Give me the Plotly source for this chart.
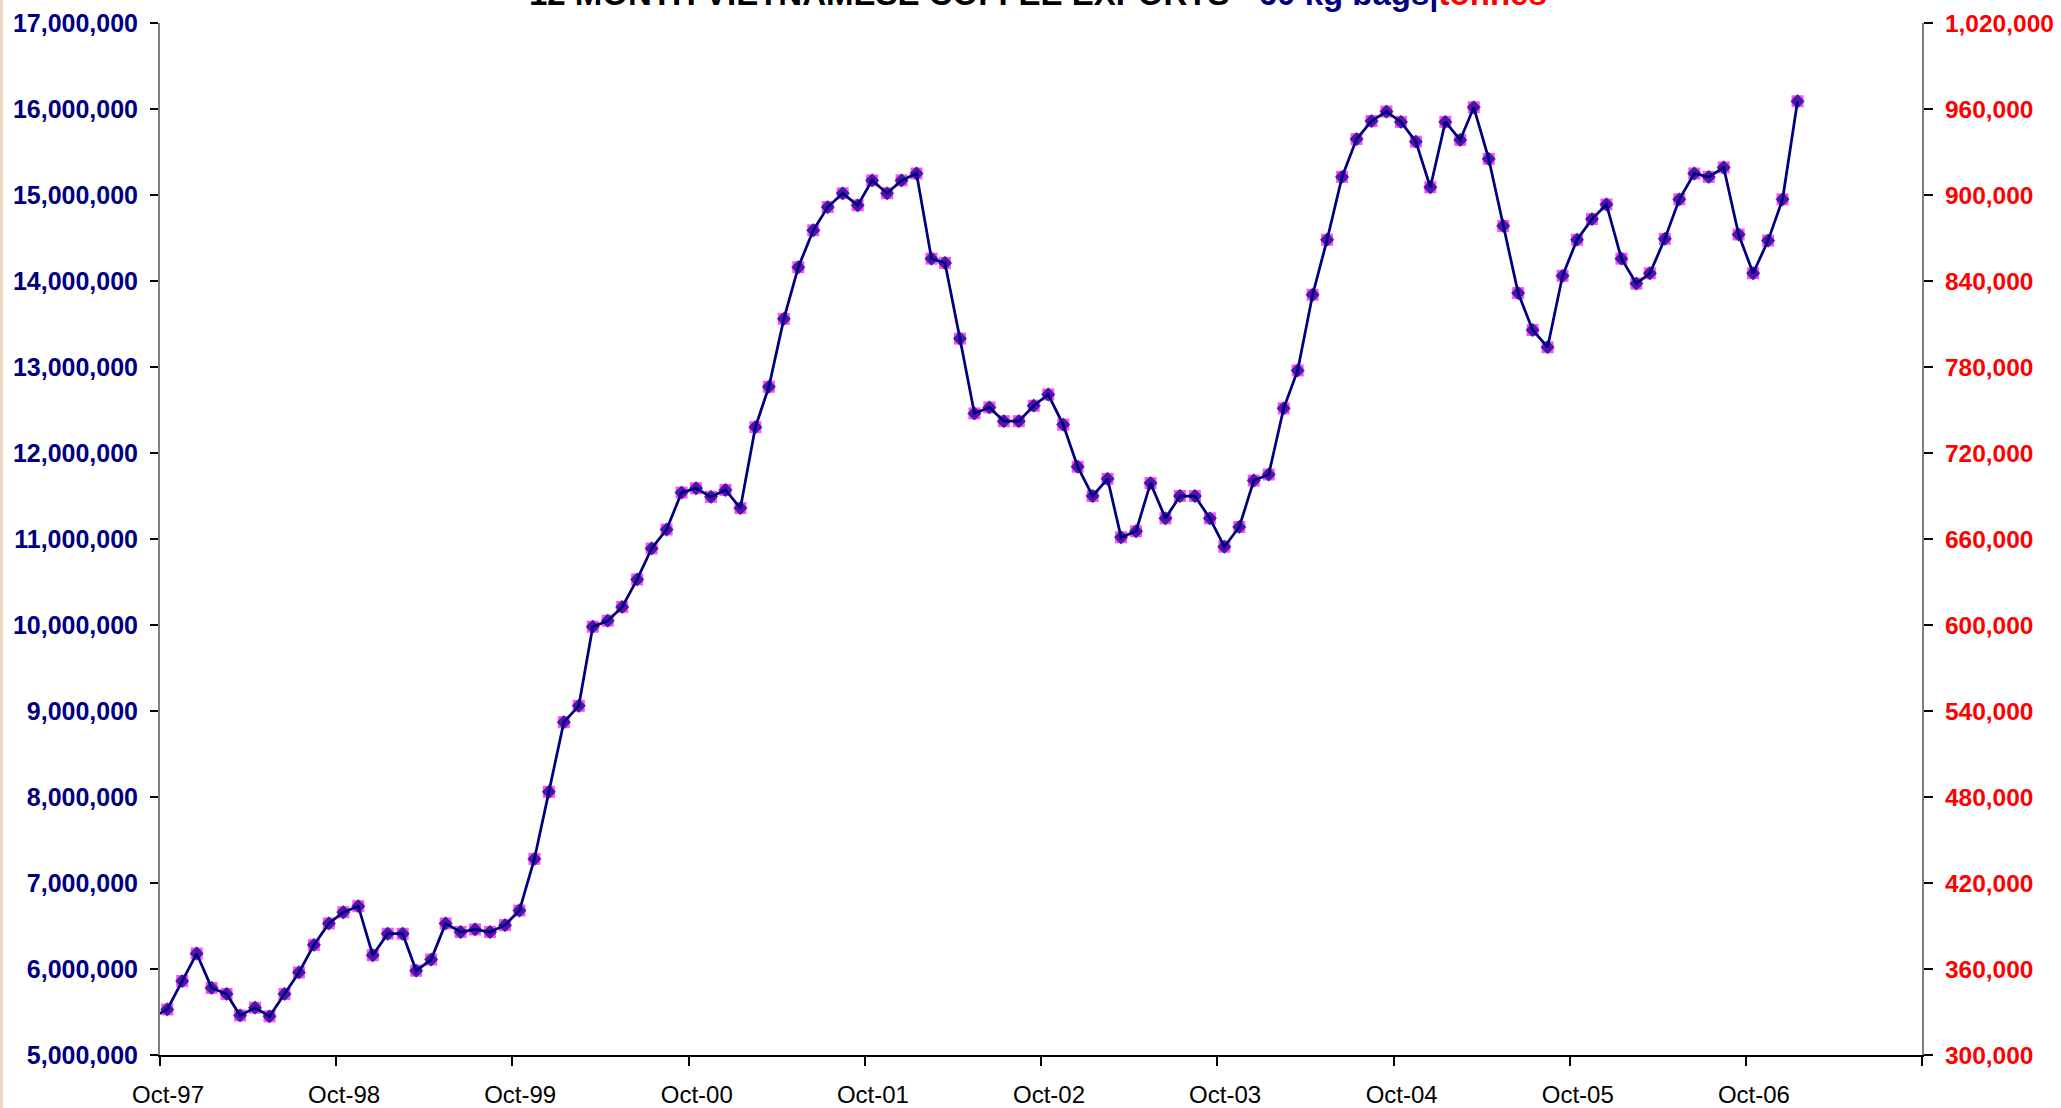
import pandas as pd
import plotly.graph_objects as go

# 12-month rolling exports, Sep-97 .. Jan-07 (Sep-97 only feeds the line entering at the axis)
months = pd.date_range("1997-09-01", periods=113, freq="MS") + pd.Timedelta(days=15)

bags = [
    5440000,
    5530000, 5860000, 6180000, 5780000, 5710000, 5460000, 5550000, 5450000, 5710000, 5960000, 6280000, 6530000,
    6660000, 6730000, 6160000, 6410000, 6410000, 5980000, 6110000, 6530000, 6430000, 6460000, 6430000, 6510000,
    6680000, 7280000, 8060000, 8870000, 9060000, 9980000, 10050000, 10210000, 10530000, 10890000, 11110000, 11540000,
    11590000, 11490000, 11570000, 11360000, 12300000, 12770000, 13560000, 14160000, 14590000, 14860000, 15020000, 14880000,
    15170000, 15020000, 15170000, 15250000, 14260000, 14210000, 13330000, 12460000, 12530000, 12370000, 12370000, 12550000,
    12680000, 12330000, 11840000, 11500000, 11700000, 11020000, 11090000, 11650000, 11240000, 11500000, 11500000, 11240000,
    10910000, 11140000, 11680000, 11750000, 12520000, 12960000, 13840000, 14480000, 15210000, 15650000, 15860000, 15970000,
    15850000, 15620000, 15090000, 15850000, 15640000, 16020000, 15420000, 14640000, 13860000, 13430000, 13230000, 14060000,
    14480000, 14720000, 14890000, 14260000, 13970000, 14090000, 14490000, 14950000, 15250000, 15210000, 15320000, 14540000,
    14090000, 14470000, 14950000, 16090000,
]

tonnes = [
    326400,
    331800, 351600, 370800, 346800, 342600, 327600, 333000, 327000, 342600, 357600, 376800, 391800,
    399600, 403800, 369600, 384600, 384600, 358800, 366600, 391800, 385800, 387600, 385800, 390600,
    400800, 436800, 483600, 532200, 543600, 598800, 603000, 612600, 631800, 653400, 666600, 692400,
    695400, 689400, 694200, 681600, 738000, 766200, 813600, 849600, 875400, 891600, 901200, 892800,
    910200, 901200, 910200, 915000, 855600, 852600, 799800, 747600, 751800, 742200, 742200, 753000,
    760800, 739800, 710400, 690000, 702000, 661200, 665400, 699000, 674400, 690000, 690000, 674400,
    654600, 668400, 700800, 705000, 751200, 777600, 830400, 868800, 912600, 939000, 951600, 958200,
    951000, 937200, 905400, 951000, 938400, 961200, 925200, 878400, 831600, 805800, 793800, 843600,
    868800, 883200, 893400, 855600, 838200, 845400, 869400, 897000, 915000, 912600, 919200, 872400,
    845400, 868200, 897000, 965400,
]

tick_dates = ["%d-10-01" % y for y in range(1997, 2008)]
tick_text = ["Oct-97", "Oct-98", "Oct-99", "Oct-00", "Oct-01", "Oct-02",
             "Oct-03", "Oct-04", "Oct-05", "Oct-06", ""]

NAVY = "#000080"
RED = "#FF0000"
FONT = "Liberation Sans, Arial, sans-serif"

W, H = 2061, 1108
L, R, T, B = 160, 139, 23, 53
pw = W - L - R
ph = H - T - B

sizes_sq = [0] + [12] * (len(tonnes) - 1)
sizes_di = [0] + [11] * (len(bags) - 1)

fig = go.Figure()

# tonnes - magenta squares on the right axis (base subplot, so drawn underneath)
fig.add_trace(go.Scatter(x=months, y=tonnes, mode="markers", yaxis="y",
                         marker=dict(symbol="square", color="#FF00FF", size=sizes_sq, line=dict(width=0)),
                         name="tonnes", showlegend=False))
# 60 kg bags - navy line with diamonds on the left axis (overlay subplot, on top)
fig.add_trace(go.Scatter(x=months, y=bags, mode="lines+markers", yaxis="y2",
                         line=dict(color=NAVY, width=2.75),
                         marker=dict(symbol="diamond", color=NAVY, size=sizes_di, line=dict(width=0)),
                         name="60 kg bags", showlegend=False))

fig.update_layout(
    width=W, height=H,
    margin=dict(l=L, r=R, t=T, b=B, autoexpand=False),
    paper_bgcolor="white", plot_bgcolor="white",
    font=dict(family=FONT),
    xaxis=dict(
        range=["1997-10-01", "2007-10-01"], automargin=False,
        tickvals=tick_dates, ticktext=tick_text,
        ticks="outside", ticklen=9, tickwidth=1.5, tickcolor="black",
        showline=True, linecolor="black", linewidth=2,
        showgrid=False, zeroline=False,
        tickfont=dict(family=FONT, size=24, color="black"),
        ticklabelshift=8, ticklabelstandoff=8,
    ),
    yaxis=dict(
        side="right", range=[300000, 1020000], dtick=60000, tick0=300000,
        tickformat=",d", automargin=False,
        ticks="outside", ticklen=9, tickwidth=1.5, tickcolor="black",
        showline=True, linecolor="#808080", linewidth=2,
        showgrid=False, zeroline=False,
        tickfont=dict(family=FONT, size=24.5, color=RED, weight="bold"),
        ticklabelstandoff=7,
    ),
    yaxis2=dict(
        side="left", overlaying="y", range=[5000000, 17000000], dtick=1000000, tick0=5000000,
        tickformat=",d", automargin=False,
        ticks="outside", ticklen=8, tickwidth=1.5, tickcolor="black",
        showline=True, linecolor="#808080", linewidth=2,
        showgrid=False, zeroline=False,
        tickfont=dict(family=FONT, size=25, color=NAVY, weight="bold"),
        ticklabelstandoff=7,
    ),
    # inner half of the cross ticks on the right axis
    yaxis3=dict(
        side="right", overlaying="y", range=[300000, 1020000], dtick=60000, tick0=300000,
        automargin=False,
        ticks="inside", ticklen=9, tickwidth=1.5, tickcolor="black",
        showticklabels=False, showline=False, showgrid=False, zeroline=False,
    ),
)

fig.add_annotation(
    xref="paper", yref="paper", x=(1038 - L) / pw, y=1 + 9 / ph, xanchor="center", yanchor="bottom",
    showarrow=False,
    text="<b>12 MONTH VIETNAMESE COFFEE EXPORTS - <span style='color:#000080'>60 kg bags|</span>"
         "<span style='color:#FF0000'>tonnes</span></b>",
    font=dict(family=FONT, size=33, color="black"),
)

# beige strip on the far left edge
fig.add_shape(type="rect", xref="paper", yref="paper",
              x0=-L / pw, x1=(3 - L) / pw, y0=-B / ph, y1=1 + T / ph,
              fillcolor="#EDD8C4", line=dict(width=0), layer="below")

# page body has a default 8px margin; drop it so the figure sits at 0,0
fig.write_html("out.html", config={"displayModeBar": False},
               post_script="document.body.style.margin='0';document.body.style.overflow='hidden';")
